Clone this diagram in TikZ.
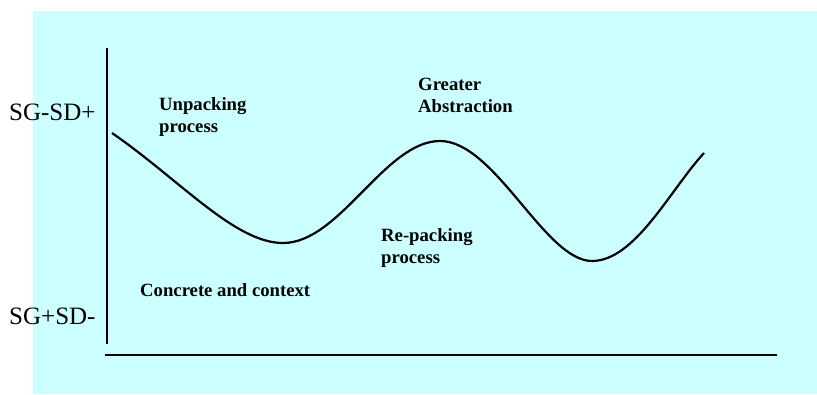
\documentclass[tikz,border=0pt]{standalone}
\usepackage{fontspec}
\setmainfont{Liberation Serif}
\definecolor{bgcyan}{HTML}{CCFFFF}
\begin{document}
\begin{tikzpicture}[x=1pt,y=-1pt,
  axis/.style={line width=2pt},
  curve/.style={line width=2.2pt},
  side/.style={font=\fontsize{25}{28}\selectfont, inner sep=0pt},
  lbl/.style={font=\fontsize{18.7}{22}\selectfont\bfseries, align=left, inner sep=0pt, anchor=north west}]
\useasboundingbox (0,0) rectangle (817,394);
\fill[bgcyan] (33,11) rectangle (817,394);
\coordinate (ytop) at (107,48);
\coordinate (ybot) at (107,344);
\coordinate (xl) at (105,355);
\coordinate (xr) at (777,355);
\draw[axis] (ytop) -- (ybot);
\draw[axis] (xl) -- (xr);
\coordinate (c0) at (112,133);
\coordinate (c1) at (283,243);
\coordinate (c2) at (440,141);
\coordinate (c3) at (592,261);
\coordinate (c4) at (704,153);
\draw[curve] (c0) .. controls (180,180) and (235,243) .. (c1)
  .. controls (340,243) and (385,141) .. (c2)
  .. controls (495,141) and (545,261) .. (c3)
  .. controls (635,261) and (670,190) .. (c4);
\node[side, anchor=west] (sdp) at (9,112) {SG-SD+};
\node[side, anchor=west] (sdm) at (9,316) {SG+SD-};
\node[lbl] (unp) at (159,97) {Unpacking\\process};
\node[lbl] (gre) at (418,78) {Greater\\Abstraction};
\node[lbl] (rep) at (381,228) {Re-packing\\process};
\node[lbl] (con) at (140,283) {Concrete and context};
\end{tikzpicture}
\end{document}
